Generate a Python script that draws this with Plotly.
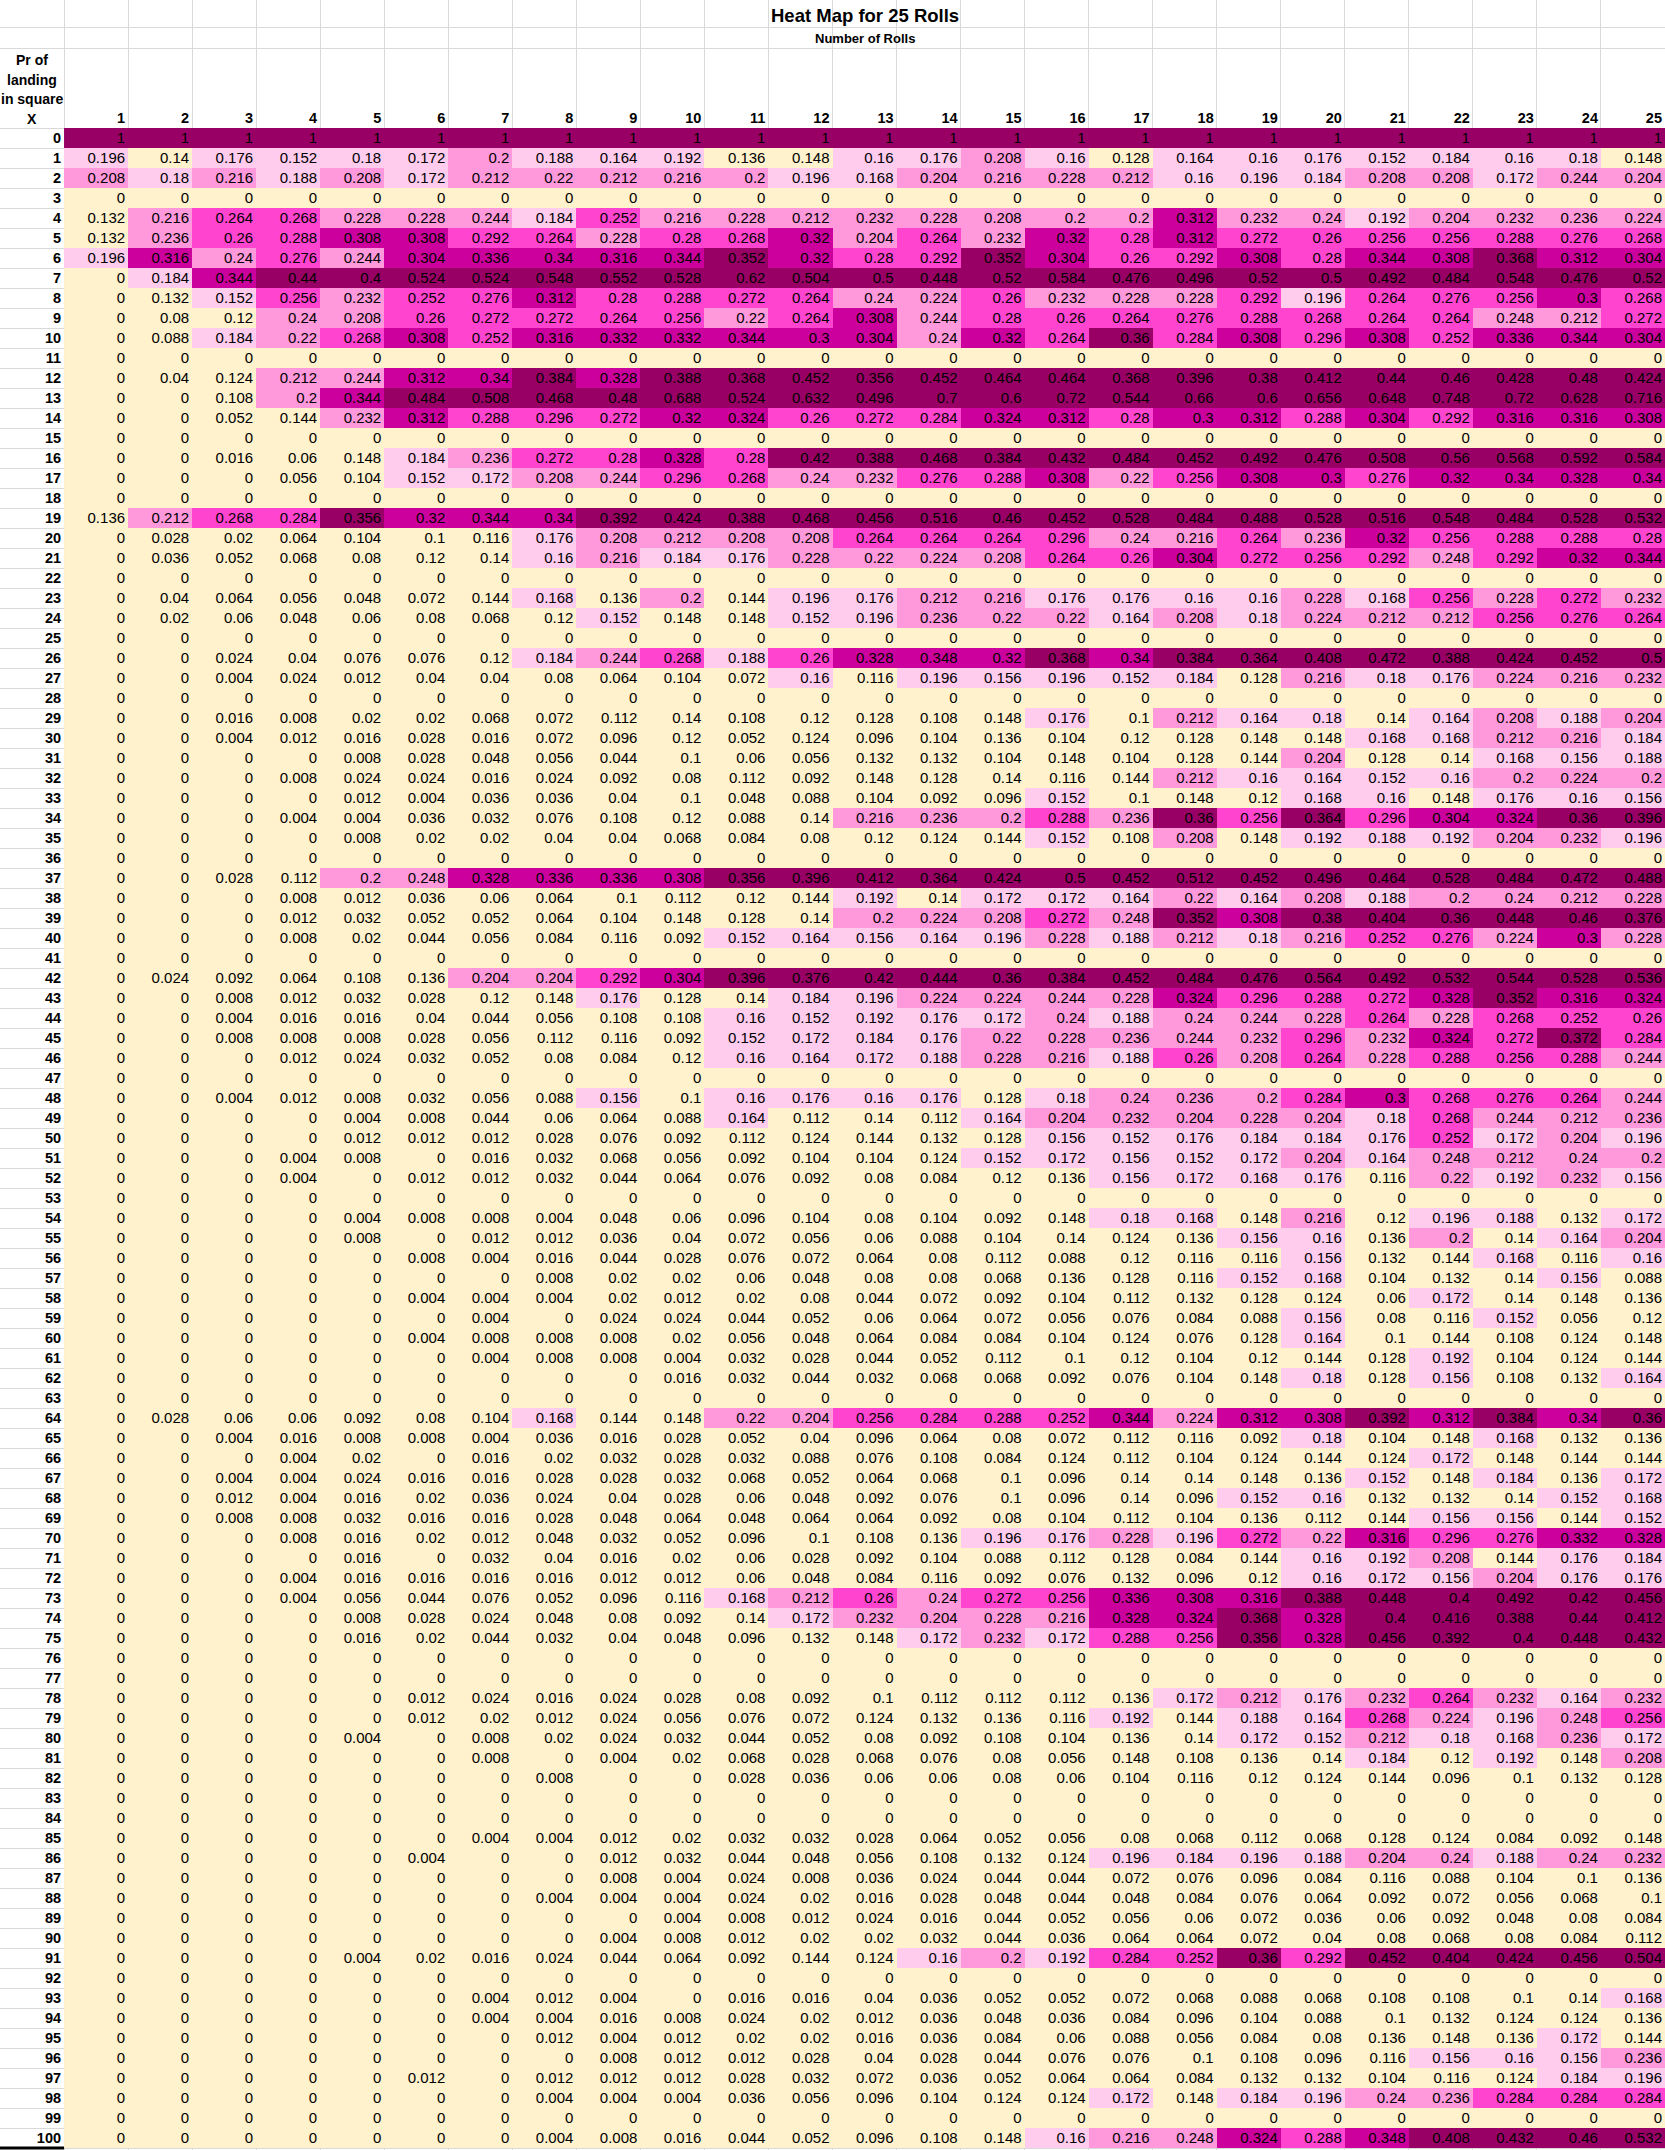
import plotly.graph_objects as go

# ---------------- data: probability of landing in square X after N rolls ----------------
rolls = list(range(1, 26))
squares = list(range(0, 101))
header_rows = ["Pr of", "landing", "in square", "X"]
title_text = "Heat Map for 25 Rolls"
subtitle_text = "Number of Rolls"

sq0 = [1, 1, 1, 1, 1, 1, 1, 1, 1, 1, 1, 1, 1, 1, 1, 1, 1, 1, 1, 1, 1, 1, 1, 1, 1]
sq1 = [0.196, 0.14, 0.176, 0.152, 0.18, 0.172, 0.2, 0.188, 0.164, 0.192, 0.136, 0.148, 0.16, 0.176, 0.208, 0.16, 0.128, 0.164, 0.16, 0.176, 0.152, 0.184, 0.16, 0.18, 0.148]
sq2 = [0.208, 0.18, 0.216, 0.188, 0.208, 0.172, 0.212, 0.22, 0.212, 0.216, 0.2, 0.196, 0.168, 0.204, 0.216, 0.228, 0.212, 0.16, 0.196, 0.184, 0.208, 0.208, 0.172, 0.244, 0.204]
sq3 = [0, 0, 0, 0, 0, 0, 0, 0, 0, 0, 0, 0, 0, 0, 0, 0, 0, 0, 0, 0, 0, 0, 0, 0, 0]
sq4 = [0.132, 0.216, 0.264, 0.268, 0.228, 0.228, 0.244, 0.184, 0.252, 0.216, 0.228, 0.212, 0.232, 0.228, 0.208, 0.2, 0.2, 0.312, 0.232, 0.24, 0.192, 0.204, 0.232, 0.236, 0.224]
sq5 = [0.132, 0.236, 0.26, 0.288, 0.308, 0.308, 0.292, 0.264, 0.228, 0.28, 0.268, 0.32, 0.204, 0.264, 0.232, 0.32, 0.28, 0.312, 0.272, 0.26, 0.256, 0.256, 0.288, 0.276, 0.268]
sq6 = [0.196, 0.316, 0.24, 0.276, 0.244, 0.304, 0.336, 0.34, 0.316, 0.344, 0.352, 0.32, 0.28, 0.292, 0.352, 0.304, 0.26, 0.292, 0.308, 0.28, 0.344, 0.308, 0.368, 0.312, 0.304]
sq7 = [0, 0.184, 0.344, 0.44, 0.4, 0.524, 0.524, 0.548, 0.552, 0.528, 0.62, 0.504, 0.5, 0.448, 0.52, 0.584, 0.476, 0.496, 0.52, 0.5, 0.492, 0.484, 0.548, 0.476, 0.52]
sq8 = [0, 0.132, 0.152, 0.256, 0.232, 0.252, 0.276, 0.312, 0.28, 0.288, 0.272, 0.264, 0.24, 0.224, 0.26, 0.232, 0.228, 0.228, 0.292, 0.196, 0.264, 0.276, 0.256, 0.3, 0.268]
sq9 = [0, 0.08, 0.12, 0.24, 0.208, 0.26, 0.272, 0.272, 0.264, 0.256, 0.22, 0.264, 0.308, 0.244, 0.28, 0.26, 0.264, 0.276, 0.288, 0.268, 0.264, 0.264, 0.248, 0.212, 0.272]
sq10 = [0, 0.088, 0.184, 0.22, 0.268, 0.308, 0.252, 0.316, 0.332, 0.332, 0.344, 0.3, 0.304, 0.24, 0.32, 0.264, 0.36, 0.284, 0.308, 0.296, 0.308, 0.252, 0.336, 0.344, 0.304]
sq11 = [0, 0, 0, 0, 0, 0, 0, 0, 0, 0, 0, 0, 0, 0, 0, 0, 0, 0, 0, 0, 0, 0, 0, 0, 0]
sq12 = [0, 0.04, 0.124, 0.212, 0.244, 0.312, 0.34, 0.384, 0.328, 0.388, 0.368, 0.452, 0.356, 0.452, 0.464, 0.464, 0.368, 0.396, 0.38, 0.412, 0.44, 0.46, 0.428, 0.48, 0.424]
sq13 = [0, 0, 0.108, 0.2, 0.344, 0.484, 0.508, 0.468, 0.48, 0.688, 0.524, 0.632, 0.496, 0.7, 0.6, 0.72, 0.544, 0.66, 0.6, 0.656, 0.648, 0.748, 0.72, 0.628, 0.716]
sq14 = [0, 0, 0.052, 0.144, 0.232, 0.312, 0.288, 0.296, 0.272, 0.32, 0.324, 0.26, 0.272, 0.284, 0.324, 0.312, 0.28, 0.3, 0.312, 0.288, 0.304, 0.292, 0.316, 0.316, 0.308]
sq15 = [0, 0, 0, 0, 0, 0, 0, 0, 0, 0, 0, 0, 0, 0, 0, 0, 0, 0, 0, 0, 0, 0, 0, 0, 0]
sq16 = [0, 0, 0.016, 0.06, 0.148, 0.184, 0.236, 0.272, 0.28, 0.328, 0.28, 0.42, 0.388, 0.468, 0.384, 0.432, 0.484, 0.452, 0.492, 0.476, 0.508, 0.56, 0.568, 0.592, 0.584]
sq17 = [0, 0, 0, 0.056, 0.104, 0.152, 0.172, 0.208, 0.244, 0.296, 0.268, 0.24, 0.232, 0.276, 0.288, 0.308, 0.22, 0.256, 0.308, 0.3, 0.276, 0.32, 0.34, 0.328, 0.34]
sq18 = [0, 0, 0, 0, 0, 0, 0, 0, 0, 0, 0, 0, 0, 0, 0, 0, 0, 0, 0, 0, 0, 0, 0, 0, 0]
sq19 = [0.136, 0.212, 0.268, 0.284, 0.356, 0.32, 0.344, 0.34, 0.392, 0.424, 0.388, 0.468, 0.456, 0.516, 0.46, 0.452, 0.528, 0.484, 0.488, 0.528, 0.516, 0.548, 0.484, 0.528, 0.532]
sq20 = [0, 0.028, 0.02, 0.064, 0.104, 0.1, 0.116, 0.176, 0.208, 0.212, 0.208, 0.208, 0.264, 0.264, 0.264, 0.296, 0.24, 0.216, 0.264, 0.236, 0.32, 0.256, 0.288, 0.288, 0.28]
sq21 = [0, 0.036, 0.052, 0.068, 0.08, 0.12, 0.14, 0.16, 0.216, 0.184, 0.176, 0.228, 0.22, 0.224, 0.208, 0.264, 0.26, 0.304, 0.272, 0.256, 0.292, 0.248, 0.292, 0.32, 0.344]
sq22 = [0, 0, 0, 0, 0, 0, 0, 0, 0, 0, 0, 0, 0, 0, 0, 0, 0, 0, 0, 0, 0, 0, 0, 0, 0]
sq23 = [0, 0.04, 0.064, 0.056, 0.048, 0.072, 0.144, 0.168, 0.136, 0.2, 0.144, 0.196, 0.176, 0.212, 0.216, 0.176, 0.176, 0.16, 0.16, 0.228, 0.168, 0.256, 0.228, 0.272, 0.232]
sq24 = [0, 0.02, 0.06, 0.048, 0.06, 0.08, 0.068, 0.12, 0.152, 0.148, 0.148, 0.152, 0.196, 0.236, 0.22, 0.22, 0.164, 0.208, 0.18, 0.224, 0.212, 0.212, 0.256, 0.276, 0.264]
sq25 = [0, 0, 0, 0, 0, 0, 0, 0, 0, 0, 0, 0, 0, 0, 0, 0, 0, 0, 0, 0, 0, 0, 0, 0, 0]
sq26 = [0, 0, 0.024, 0.04, 0.076, 0.076, 0.12, 0.184, 0.244, 0.268, 0.188, 0.26, 0.328, 0.348, 0.32, 0.368, 0.34, 0.384, 0.364, 0.408, 0.472, 0.388, 0.424, 0.452, 0.5]
sq27 = [0, 0, 0.004, 0.024, 0.012, 0.04, 0.04, 0.08, 0.064, 0.104, 0.072, 0.16, 0.116, 0.196, 0.156, 0.196, 0.152, 0.184, 0.128, 0.216, 0.18, 0.176, 0.224, 0.216, 0.232]
sq28 = [0, 0, 0, 0, 0, 0, 0, 0, 0, 0, 0, 0, 0, 0, 0, 0, 0, 0, 0, 0, 0, 0, 0, 0, 0]
sq29 = [0, 0, 0.016, 0.008, 0.02, 0.02, 0.068, 0.072, 0.112, 0.14, 0.108, 0.12, 0.128, 0.108, 0.148, 0.176, 0.1, 0.212, 0.164, 0.18, 0.14, 0.164, 0.208, 0.188, 0.204]
sq30 = [0, 0, 0.004, 0.012, 0.016, 0.028, 0.016, 0.072, 0.096, 0.12, 0.052, 0.124, 0.096, 0.104, 0.136, 0.104, 0.12, 0.128, 0.148, 0.148, 0.168, 0.168, 0.212, 0.216, 0.184]
sq31 = [0, 0, 0, 0, 0.008, 0.028, 0.048, 0.056, 0.044, 0.1, 0.06, 0.056, 0.132, 0.132, 0.104, 0.148, 0.104, 0.128, 0.144, 0.204, 0.128, 0.14, 0.168, 0.156, 0.188]
sq32 = [0, 0, 0, 0.008, 0.024, 0.024, 0.016, 0.024, 0.092, 0.08, 0.112, 0.092, 0.148, 0.128, 0.14, 0.116, 0.144, 0.212, 0.16, 0.164, 0.152, 0.16, 0.2, 0.224, 0.2]
sq33 = [0, 0, 0, 0, 0.012, 0.004, 0.036, 0.036, 0.04, 0.1, 0.048, 0.088, 0.104, 0.092, 0.096, 0.152, 0.1, 0.148, 0.12, 0.168, 0.16, 0.148, 0.176, 0.16, 0.156]
sq34 = [0, 0, 0, 0.004, 0.004, 0.036, 0.032, 0.076, 0.108, 0.12, 0.088, 0.14, 0.216, 0.236, 0.2, 0.288, 0.236, 0.36, 0.256, 0.364, 0.296, 0.304, 0.324, 0.36, 0.396]
sq35 = [0, 0, 0, 0, 0.008, 0.02, 0.02, 0.04, 0.04, 0.068, 0.084, 0.08, 0.12, 0.124, 0.144, 0.152, 0.108, 0.208, 0.148, 0.192, 0.188, 0.192, 0.204, 0.232, 0.196]
sq36 = [0, 0, 0, 0, 0, 0, 0, 0, 0, 0, 0, 0, 0, 0, 0, 0, 0, 0, 0, 0, 0, 0, 0, 0, 0]
sq37 = [0, 0, 0.028, 0.112, 0.2, 0.248, 0.328, 0.336, 0.336, 0.308, 0.356, 0.396, 0.412, 0.364, 0.424, 0.5, 0.452, 0.512, 0.452, 0.496, 0.464, 0.528, 0.484, 0.472, 0.488]
sq38 = [0, 0, 0, 0.008, 0.012, 0.036, 0.06, 0.064, 0.1, 0.112, 0.12, 0.144, 0.192, 0.14, 0.172, 0.172, 0.164, 0.22, 0.164, 0.208, 0.188, 0.2, 0.24, 0.212, 0.228]
sq39 = [0, 0, 0, 0.012, 0.032, 0.052, 0.052, 0.064, 0.104, 0.148, 0.128, 0.14, 0.2, 0.224, 0.208, 0.272, 0.248, 0.352, 0.308, 0.38, 0.404, 0.36, 0.448, 0.46, 0.376]
sq40 = [0, 0, 0, 0.008, 0.02, 0.044, 0.056, 0.084, 0.116, 0.092, 0.152, 0.164, 0.156, 0.164, 0.196, 0.228, 0.188, 0.212, 0.18, 0.216, 0.252, 0.276, 0.224, 0.3, 0.228]
sq41 = [0, 0, 0, 0, 0, 0, 0, 0, 0, 0, 0, 0, 0, 0, 0, 0, 0, 0, 0, 0, 0, 0, 0, 0, 0]
sq42 = [0, 0.024, 0.092, 0.064, 0.108, 0.136, 0.204, 0.204, 0.292, 0.304, 0.396, 0.376, 0.42, 0.444, 0.36, 0.384, 0.452, 0.484, 0.476, 0.564, 0.492, 0.532, 0.544, 0.528, 0.536]
sq43 = [0, 0, 0.008, 0.012, 0.032, 0.028, 0.12, 0.148, 0.176, 0.128, 0.14, 0.184, 0.196, 0.224, 0.224, 0.244, 0.228, 0.324, 0.296, 0.288, 0.272, 0.328, 0.352, 0.316, 0.324]
sq44 = [0, 0, 0.004, 0.016, 0.016, 0.04, 0.044, 0.056, 0.108, 0.108, 0.16, 0.152, 0.192, 0.176, 0.172, 0.24, 0.188, 0.24, 0.244, 0.228, 0.264, 0.228, 0.268, 0.252, 0.26]
sq45 = [0, 0, 0.008, 0.008, 0.008, 0.028, 0.056, 0.112, 0.116, 0.092, 0.152, 0.172, 0.184, 0.176, 0.22, 0.228, 0.236, 0.244, 0.232, 0.296, 0.232, 0.324, 0.272, 0.372, 0.284]
sq46 = [0, 0, 0, 0.012, 0.024, 0.032, 0.052, 0.08, 0.084, 0.12, 0.16, 0.164, 0.172, 0.188, 0.228, 0.216, 0.188, 0.26, 0.208, 0.264, 0.228, 0.288, 0.256, 0.288, 0.244]
sq47 = [0, 0, 0, 0, 0, 0, 0, 0, 0, 0, 0, 0, 0, 0, 0, 0, 0, 0, 0, 0, 0, 0, 0, 0, 0]
sq48 = [0, 0, 0.004, 0.012, 0.008, 0.032, 0.056, 0.088, 0.156, 0.1, 0.16, 0.176, 0.16, 0.176, 0.128, 0.18, 0.24, 0.236, 0.2, 0.284, 0.3, 0.268, 0.276, 0.264, 0.244]
sq49 = [0, 0, 0, 0, 0.004, 0.008, 0.044, 0.06, 0.064, 0.088, 0.164, 0.112, 0.14, 0.112, 0.164, 0.204, 0.232, 0.204, 0.228, 0.204, 0.18, 0.268, 0.244, 0.212, 0.236]
sq50 = [0, 0, 0, 0, 0.012, 0.012, 0.012, 0.028, 0.076, 0.092, 0.112, 0.124, 0.144, 0.132, 0.128, 0.156, 0.152, 0.176, 0.184, 0.184, 0.176, 0.252, 0.172, 0.204, 0.196]
sq51 = [0, 0, 0, 0.004, 0.008, 0, 0.016, 0.032, 0.068, 0.056, 0.092, 0.104, 0.104, 0.124, 0.152, 0.172, 0.156, 0.152, 0.172, 0.204, 0.164, 0.248, 0.212, 0.24, 0.2]
sq52 = [0, 0, 0, 0.004, 0, 0.012, 0.012, 0.032, 0.044, 0.064, 0.076, 0.092, 0.08, 0.084, 0.12, 0.136, 0.156, 0.172, 0.168, 0.176, 0.116, 0.22, 0.192, 0.232, 0.156]
sq53 = [0, 0, 0, 0, 0, 0, 0, 0, 0, 0, 0, 0, 0, 0, 0, 0, 0, 0, 0, 0, 0, 0, 0, 0, 0]
sq54 = [0, 0, 0, 0, 0.004, 0.008, 0.008, 0.004, 0.048, 0.06, 0.096, 0.104, 0.08, 0.104, 0.092, 0.148, 0.18, 0.168, 0.148, 0.216, 0.12, 0.196, 0.188, 0.132, 0.172]
sq55 = [0, 0, 0, 0, 0.008, 0, 0.012, 0.012, 0.036, 0.04, 0.072, 0.056, 0.06, 0.088, 0.104, 0.14, 0.124, 0.136, 0.156, 0.16, 0.136, 0.2, 0.14, 0.164, 0.204]
sq56 = [0, 0, 0, 0, 0, 0.008, 0.004, 0.016, 0.044, 0.028, 0.076, 0.072, 0.064, 0.08, 0.112, 0.088, 0.12, 0.116, 0.116, 0.156, 0.132, 0.144, 0.168, 0.116, 0.16]
sq57 = [0, 0, 0, 0, 0, 0, 0, 0.008, 0.02, 0.02, 0.06, 0.048, 0.08, 0.08, 0.068, 0.136, 0.128, 0.116, 0.152, 0.168, 0.104, 0.132, 0.14, 0.156, 0.088]
sq58 = [0, 0, 0, 0, 0, 0.004, 0.004, 0.004, 0.02, 0.012, 0.02, 0.08, 0.044, 0.072, 0.092, 0.104, 0.112, 0.132, 0.128, 0.124, 0.06, 0.172, 0.14, 0.148, 0.136]
sq59 = [0, 0, 0, 0, 0, 0, 0.004, 0, 0.024, 0.024, 0.044, 0.052, 0.06, 0.064, 0.072, 0.056, 0.076, 0.084, 0.088, 0.156, 0.08, 0.116, 0.152, 0.056, 0.12]
sq60 = [0, 0, 0, 0, 0, 0.004, 0.008, 0.008, 0.008, 0.02, 0.056, 0.048, 0.064, 0.084, 0.084, 0.104, 0.124, 0.076, 0.128, 0.164, 0.1, 0.144, 0.108, 0.124, 0.148]
sq61 = [0, 0, 0, 0, 0, 0, 0.004, 0.008, 0.008, 0.004, 0.032, 0.028, 0.044, 0.052, 0.112, 0.1, 0.12, 0.104, 0.12, 0.144, 0.128, 0.192, 0.104, 0.124, 0.144]
sq62 = [0, 0, 0, 0, 0, 0, 0, 0, 0, 0.016, 0.032, 0.044, 0.032, 0.068, 0.068, 0.092, 0.076, 0.104, 0.148, 0.18, 0.128, 0.156, 0.108, 0.132, 0.164]
sq63 = [0, 0, 0, 0, 0, 0, 0, 0, 0, 0, 0, 0, 0, 0, 0, 0, 0, 0, 0, 0, 0, 0, 0, 0, 0]
sq64 = [0, 0.028, 0.06, 0.06, 0.092, 0.08, 0.104, 0.168, 0.144, 0.148, 0.22, 0.204, 0.256, 0.284, 0.288, 0.252, 0.344, 0.224, 0.312, 0.308, 0.392, 0.312, 0.384, 0.34, 0.36]
sq65 = [0, 0, 0.004, 0.016, 0.008, 0.008, 0.004, 0.036, 0.016, 0.028, 0.052, 0.04, 0.096, 0.064, 0.08, 0.072, 0.112, 0.116, 0.092, 0.18, 0.104, 0.148, 0.168, 0.132, 0.136]
sq66 = [0, 0, 0, 0.004, 0.02, 0, 0.016, 0.02, 0.032, 0.028, 0.032, 0.088, 0.076, 0.108, 0.084, 0.124, 0.112, 0.104, 0.124, 0.144, 0.124, 0.172, 0.148, 0.144, 0.144]
sq67 = [0, 0, 0.004, 0.004, 0.024, 0.016, 0.016, 0.028, 0.028, 0.032, 0.068, 0.052, 0.064, 0.068, 0.1, 0.096, 0.14, 0.14, 0.148, 0.136, 0.152, 0.148, 0.184, 0.136, 0.172]
sq68 = [0, 0, 0.012, 0.004, 0.016, 0.02, 0.036, 0.024, 0.04, 0.028, 0.06, 0.048, 0.092, 0.076, 0.1, 0.096, 0.14, 0.096, 0.152, 0.16, 0.132, 0.132, 0.14, 0.152, 0.168]
sq69 = [0, 0, 0.008, 0.008, 0.032, 0.016, 0.016, 0.028, 0.048, 0.064, 0.048, 0.064, 0.064, 0.092, 0.08, 0.104, 0.112, 0.104, 0.136, 0.112, 0.144, 0.156, 0.156, 0.144, 0.152]
sq70 = [0, 0, 0, 0.008, 0.016, 0.02, 0.012, 0.048, 0.032, 0.052, 0.096, 0.1, 0.108, 0.136, 0.196, 0.176, 0.228, 0.196, 0.272, 0.22, 0.316, 0.296, 0.276, 0.332, 0.328]
sq71 = [0, 0, 0, 0, 0.016, 0, 0.032, 0.04, 0.016, 0.02, 0.06, 0.028, 0.092, 0.104, 0.088, 0.112, 0.128, 0.084, 0.144, 0.16, 0.192, 0.208, 0.144, 0.176, 0.184]
sq72 = [0, 0, 0, 0.004, 0.016, 0.016, 0.016, 0.016, 0.012, 0.012, 0.06, 0.048, 0.084, 0.116, 0.092, 0.076, 0.132, 0.096, 0.12, 0.16, 0.172, 0.156, 0.204, 0.176, 0.176]
sq73 = [0, 0, 0, 0.004, 0.056, 0.044, 0.076, 0.052, 0.096, 0.116, 0.168, 0.212, 0.26, 0.24, 0.272, 0.256, 0.336, 0.308, 0.316, 0.388, 0.448, 0.4, 0.492, 0.42, 0.456]
sq74 = [0, 0, 0, 0, 0.008, 0.028, 0.024, 0.048, 0.08, 0.092, 0.14, 0.172, 0.232, 0.204, 0.228, 0.216, 0.328, 0.324, 0.368, 0.328, 0.4, 0.416, 0.388, 0.44, 0.412]
sq75 = [0, 0, 0, 0, 0.016, 0.02, 0.044, 0.032, 0.04, 0.048, 0.096, 0.132, 0.148, 0.172, 0.232, 0.172, 0.288, 0.256, 0.356, 0.328, 0.456, 0.392, 0.4, 0.448, 0.432]
sq76 = [0, 0, 0, 0, 0, 0, 0, 0, 0, 0, 0, 0, 0, 0, 0, 0, 0, 0, 0, 0, 0, 0, 0, 0, 0]
sq77 = [0, 0, 0, 0, 0, 0, 0, 0, 0, 0, 0, 0, 0, 0, 0, 0, 0, 0, 0, 0, 0, 0, 0, 0, 0]
sq78 = [0, 0, 0, 0, 0, 0.012, 0.024, 0.016, 0.024, 0.028, 0.08, 0.092, 0.1, 0.112, 0.112, 0.112, 0.136, 0.172, 0.212, 0.176, 0.232, 0.264, 0.232, 0.164, 0.232]
sq79 = [0, 0, 0, 0, 0, 0.012, 0.02, 0.012, 0.024, 0.056, 0.076, 0.072, 0.124, 0.132, 0.136, 0.116, 0.192, 0.144, 0.188, 0.164, 0.268, 0.224, 0.196, 0.248, 0.256]
sq80 = [0, 0, 0, 0, 0.004, 0, 0.008, 0.02, 0.024, 0.032, 0.044, 0.052, 0.08, 0.092, 0.108, 0.104, 0.136, 0.14, 0.172, 0.152, 0.212, 0.18, 0.168, 0.236, 0.172]
sq81 = [0, 0, 0, 0, 0, 0, 0.008, 0, 0.004, 0.02, 0.068, 0.028, 0.068, 0.076, 0.08, 0.056, 0.148, 0.108, 0.136, 0.14, 0.184, 0.12, 0.192, 0.148, 0.208]
sq82 = [0, 0, 0, 0, 0, 0, 0, 0.008, 0, 0, 0.028, 0.036, 0.06, 0.06, 0.08, 0.06, 0.104, 0.116, 0.12, 0.124, 0.144, 0.096, 0.1, 0.132, 0.128]
sq83 = [0, 0, 0, 0, 0, 0, 0, 0, 0, 0, 0, 0, 0, 0, 0, 0, 0, 0, 0, 0, 0, 0, 0, 0, 0]
sq84 = [0, 0, 0, 0, 0, 0, 0, 0, 0, 0, 0, 0, 0, 0, 0, 0, 0, 0, 0, 0, 0, 0, 0, 0, 0]
sq85 = [0, 0, 0, 0, 0, 0, 0.004, 0.004, 0.012, 0.02, 0.032, 0.032, 0.028, 0.064, 0.052, 0.056, 0.08, 0.068, 0.112, 0.068, 0.128, 0.124, 0.084, 0.092, 0.148]
sq86 = [0, 0, 0, 0, 0, 0.004, 0, 0, 0.012, 0.032, 0.044, 0.048, 0.056, 0.108, 0.132, 0.124, 0.196, 0.184, 0.196, 0.188, 0.204, 0.24, 0.188, 0.24, 0.232]
sq87 = [0, 0, 0, 0, 0, 0, 0, 0, 0.008, 0.004, 0.024, 0.008, 0.036, 0.024, 0.044, 0.044, 0.072, 0.076, 0.096, 0.084, 0.116, 0.088, 0.104, 0.1, 0.136]
sq88 = [0, 0, 0, 0, 0, 0, 0, 0.004, 0.004, 0.004, 0.024, 0.02, 0.016, 0.028, 0.048, 0.044, 0.048, 0.084, 0.076, 0.064, 0.092, 0.072, 0.056, 0.068, 0.1]
sq89 = [0, 0, 0, 0, 0, 0, 0, 0, 0, 0.004, 0.008, 0.012, 0.024, 0.016, 0.044, 0.052, 0.056, 0.06, 0.072, 0.036, 0.06, 0.092, 0.048, 0.08, 0.084]
sq90 = [0, 0, 0, 0, 0, 0, 0, 0, 0.004, 0.008, 0.012, 0.02, 0.02, 0.032, 0.044, 0.036, 0.064, 0.064, 0.072, 0.04, 0.08, 0.068, 0.08, 0.084, 0.112]
sq91 = [0, 0, 0, 0, 0.004, 0.02, 0.016, 0.024, 0.044, 0.064, 0.092, 0.144, 0.124, 0.16, 0.2, 0.192, 0.284, 0.252, 0.36, 0.292, 0.452, 0.404, 0.424, 0.456, 0.504]
sq92 = [0, 0, 0, 0, 0, 0, 0, 0, 0, 0, 0, 0, 0, 0, 0, 0, 0, 0, 0, 0, 0, 0, 0, 0, 0]
sq93 = [0, 0, 0, 0, 0, 0, 0.004, 0.012, 0.004, 0, 0.016, 0.016, 0.04, 0.036, 0.052, 0.052, 0.072, 0.068, 0.088, 0.068, 0.108, 0.108, 0.1, 0.14, 0.168]
sq94 = [0, 0, 0, 0, 0, 0, 0.004, 0.004, 0.016, 0.008, 0.024, 0.02, 0.012, 0.036, 0.048, 0.036, 0.084, 0.096, 0.104, 0.088, 0.1, 0.132, 0.124, 0.124, 0.136]
sq95 = [0, 0, 0, 0, 0, 0, 0, 0.012, 0.004, 0.012, 0.02, 0.02, 0.016, 0.036, 0.084, 0.06, 0.088, 0.056, 0.084, 0.08, 0.136, 0.148, 0.136, 0.172, 0.144]
sq96 = [0, 0, 0, 0, 0, 0, 0, 0, 0.008, 0.012, 0.012, 0.028, 0.04, 0.028, 0.044, 0.076, 0.076, 0.1, 0.108, 0.096, 0.116, 0.156, 0.16, 0.156, 0.236]
sq97 = [0, 0, 0, 0, 0, 0.012, 0, 0.012, 0.012, 0.012, 0.028, 0.032, 0.072, 0.036, 0.052, 0.064, 0.064, 0.084, 0.132, 0.132, 0.104, 0.116, 0.124, 0.184, 0.196]
sq98 = [0, 0, 0, 0, 0, 0, 0, 0.004, 0.004, 0.004, 0.036, 0.056, 0.096, 0.104, 0.124, 0.124, 0.172, 0.148, 0.184, 0.196, 0.24, 0.236, 0.284, 0.284, 0.284]
sq99 = [0, 0, 0, 0, 0, 0, 0, 0, 0, 0, 0, 0, 0, 0, 0, 0, 0, 0, 0, 0, 0, 0, 0, 0, 0]
sq100 = [0, 0, 0, 0, 0, 0, 0, 0.004, 0.008, 0.016, 0.044, 0.052, 0.096, 0.108, 0.148, 0.16, 0.216, 0.248, 0.324, 0.288, 0.348, 0.408, 0.432, 0.46, 0.532]

z = [globals()["sq%d" % i] for i in squares]

# ---------------- geometry (pixels of the 1665 x 2150 page) ----------------
W, H = 1665, 2150
ROW_TOP = 128        # top of row "0"
ROW_H = 20
COL_W = W / 26.0


def py(p):
    """pixel y -> row coordinate"""
    return (p - ROW_TOP) / ROW_H - 0.5


# discrete colour bands (Excel-style conditional fill)
c_cream = "#FFF2CC"
c_light = "#FFCCEE"
c_mid = "#FF99DB"
c_hot = "#FF44D0"
c_mag = "#CC009C"
c_dark = "#990066"
bands = [(0.0, c_cream), (0.15, c_light), (0.198, c_mid), (0.25, c_hot), (0.298, c_mag), (0.35, c_dark)]
colorscale = []
for i, (lo, col) in enumerate(bands):
    hi = bands[i + 1][0] if i + 1 < len(bands) else 1.0
    colorscale.append([lo, col])
    colorscale.append([hi, col])

fig = go.Figure()
fig.add_trace(go.Heatmap(
    z=z, x=rolls, y=squares, zmin=0, zmax=1, colorscale=colorscale,
    showscale=False, hoverinfo="skip", xgap=0, ygap=0,
))

FONT = "Liberation Sans Narrow, Liberation Sans, Arial, sans-serif"
pad = 3.0 / COL_W

# cell values (right aligned)
tx, ty, tt = [], [], []
for r in squares:
    for ci, k in enumerate(rolls):
        v = z[r][ci]
        tx.append(k + 0.5 - pad)
        ty.append(r + 0.08)
        tt.append("%g" % v)
fig.add_trace(go.Scatter(
    x=tx, y=ty, text=tt, mode="text", textposition="middle left",
    textfont=dict(family=FONT, size=15, color="#000000"), hoverinfo="skip", showlegend=False,
))

# row labels
fig.add_trace(go.Scatter(
    x=[0.5 - pad] * len(squares), y=[r + 0.08 for r in squares], text=[str(r) for r in squares],
    mode="text", textposition="middle left",
    textfont=dict(family=FONT, size=14.5, color="#000000", weight="bold"), hoverinfo="skip", showlegend=False,
))

# column labels
fig.add_trace(go.Scatter(
    x=[k + 0.5 - pad for k in rolls], y=[py(119)] * len(rolls), text=[str(k) for k in rolls],
    mode="text", textposition="middle left",
    textfont=dict(family=FONT, size=14.5, color="#000000", weight="bold"), hoverinfo="skip", showlegend=False,
))

annotations = [
    dict(x=13, y=py(15), text="<b>%s</b>" % title_text, showarrow=False, xanchor="center", yanchor="middle",
         font=dict(family=FONT, size=18.5, color="#000000")),
    dict(x=13, y=py(38), text="<b>%s</b>" % subtitle_text, showarrow=False, xanchor="center", yanchor="middle",
         font=dict(family=FONT, size=13, color="#000000")),
]
for line, p in zip(header_rows, [60, 80, 99, 119]):
    annotations.append(dict(x=0, y=py(p), text="<b>%s</b>" % line, showarrow=False, xanchor="center",
                            yanchor="middle", font=dict(family=FONT, size=14, color="#000000")))

grid = "#D9D9D9"
fig.update_layout(
    width=W, height=H, margin=dict(l=0, r=0, t=0, b=0),
    paper_bgcolor="#FFFFFF", plot_bgcolor="#FFFFFF",
    showlegend=False, annotations=annotations,
    shapes=[dict(type="line", xref="x", yref="y", x0=-0.5, x1=0.5, y0=100.5, y1=100.5,
                 line=dict(color="#000000", width=3))],
    xaxis=dict(range=[-0.5, 25.5], tickvals=[i - 0.5 for i in range(27)], showgrid=True, gridcolor=grid,
               gridwidth=1, showticklabels=False, ticks="", zeroline=False, showline=False, fixedrange=True),
    yaxis=dict(range=[py(H), py(0)], tickvals=[py(27), py(48)] + [r - 0.5 for r in range(102)],
               showgrid=True, gridcolor=grid, gridwidth=1, showticklabels=False, ticks="",
               zeroline=False, showline=False, fixedrange=True),
)

fig.write_html("out.html")
